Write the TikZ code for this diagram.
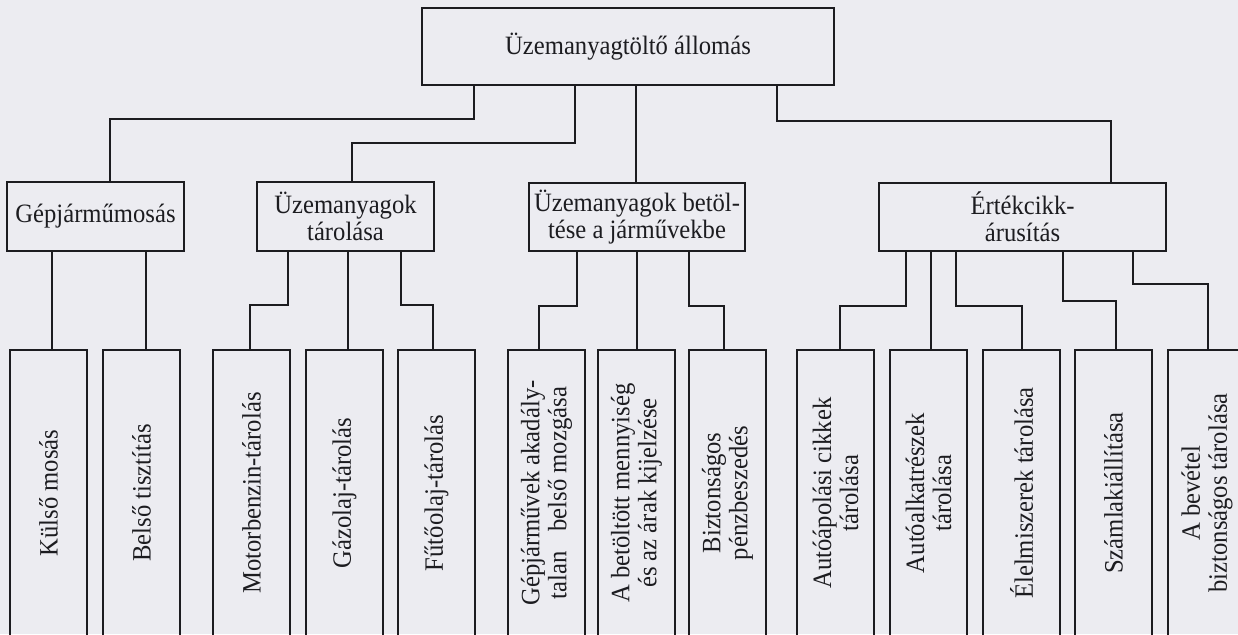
\documentclass[tikz,border=0pt]{standalone}
\usepackage{fontspec}
\setmainfont{Liberation Serif}[FakeStretch=0.93]
\definecolor{bg}{RGB}{236,236,241}
\definecolor{ink}{RGB}{28,28,32}
\begin{document}
\begin{tikzpicture}[x=1pt,y=-1pt,
  box/.style={draw=ink, line width=2pt, inner sep=0pt, outer sep=0pt, anchor=north west, align=center, font=\fontsize{26.5}{27}\selectfont, text=ink},
  leaf/.style={draw=ink, line width=2pt, inner sep=0pt, outer sep=0pt, anchor=north west, minimum width=77pt, minimum height=286pt},
  ltext/.style={rotate=90, align=center, font=\fontsize{26.5}{27}\selectfont, text=ink, inner sep=0pt},
  conn/.style={draw=ink, line width=1.1pt}]
\useasboundingbox (0,0) rectangle (1238,634);
\fill[bg] (0,0) rectangle (1238,634);
\clip (0,0) rectangle (1238,634);
% level 1 and 2
\node[box, minimum width=412pt, minimum height=77pt] (root) at (422,8) {Üzemanyagtöltő állomás};
\node[box, minimum width=177pt, minimum height=69pt] (g1) at (7,182) {Gépjárműmosás};
\node[box, minimum width=177pt, minimum height=69pt] (g2) at (257,182) {Üzemanyagok\\tárolása};
\node[box, minimum width=216pt, minimum height=68pt] (g3) at (529,183) {Üzemanyagok betöl-\\tése a járművekbe};
\node[box, minimum width=287pt, minimum height=68pt] (g4) at (879,183) {Értékcikk-\\árusítás};
% leaves
\node[leaf] (l1) at (10,350) {};
\node[leaf] (l2) at (103,350) {};
\node[leaf] (l3) at (213,350) {};
\node[leaf] (l4) at (306,350) {};
\node[leaf] (l5) at (398,350) {};
\node[leaf] (l6) at (508,350) {};
\node[leaf] (l7) at (598,350) {};
\node[leaf] (l8) at (689,350) {};
\node[leaf] (l9) at (797,350) {};
\node[leaf] (l10) at (890,350) {};
\node[leaf] (l11) at (983,350) {};
\node[leaf] (l12) at (1075,350) {};
\node[leaf, minimum width=78pt] (l13) at (1168,350) {};
\node[ltext] (t1) at (l1.center) {Külső mosás};
\node[ltext] (t2) at (l2.center) {Belső tisztítás};
\node[ltext] (t3) at (l3.center) {Motorbenzin-tárolás};
\node[ltext] (t4) at (l4.center) {Gázolaj-tárolás};
\node[ltext] (t5) at (l5.center) {Fűtőolaj-tárolás};
\node[ltext] (t6) at (l6.center) {Gépjárművek akadály-\\\hbox to 212pt{talan\hfil\ belső mozgása}};
\node[ltext] (t7) at (l7.center) {A betöltött mennyiség\\és az árak kijelzése};
\node[ltext] (t8) at (l8.center) {Biztonságos\\pénzbeszedés};
\node[ltext] (t9) at (l9.center) {Autóápolási cikkek\\tárolása};
\node[ltext] (t10) at (l10.center) {Autóalkatrészek\\tárolása};
\node[ltext] (t11) at (l11.center) {Élelmiszerek tárolása};
\node[ltext] (t12) at (l12.center) {Számlakiállítása};
\node[ltext] (t13) at (l13.center) {A bevétel\\biztonságos tárolása};
% connectors root
\draw[conn] ([xshift=52pt]root.south west) -- ++(0,34) -| ([xshift=103pt]g1.north west);
\draw[conn] ([xshift=153pt]root.south west) -- ++(0,58) -| ([xshift=95pt]g2.north west);
\draw[conn] ([xshift=214pt]root.south west) -- ([xshift=214pt]root.south west |- g3.north);
\draw[conn] ([xshift=355pt]root.south west) -- ++(0,36) -| ([xshift=232pt]g4.north west);
% connectors g1
\draw[conn] ([xshift=45pt]g1.south west) -- ([xshift=45pt]g1.south west |- l1.north);
\draw[conn] ([xshift=139pt]g1.south west) -- ([xshift=139pt]g1.south west |- l2.north);
% connectors g2
\draw[conn] ([xshift=31pt]g2.south west) -- ++(0,54) -| ([xshift=37pt]l3.north west);
\draw[conn] ([xshift=91pt]g2.south west) -- ([xshift=91pt]g2.south west |- l4.north);
\draw[conn] ([xshift=144pt]g2.south west) -- ++(0,54) -| ([xshift=35pt]l5.north west);
% connectors g3
\draw[conn] ([xshift=48pt]g3.south west) -- ++(0,55) -| ([xshift=31pt]l6.north west);
\draw[conn] ([xshift=108pt]g3.south west) -- ([xshift=108pt]g3.south west |- l7.north);
\draw[conn] ([xshift=160pt]g3.south west) -- ++(0,55) -| ([xshift=35pt]l8.north west);
% connectors g4
\draw[conn] ([xshift=27pt]g4.south west) -- ++(0,55) -| ([xshift=43pt]l9.north west);
\draw[conn] ([xshift=52pt]g4.south west) -- ([xshift=52pt]g4.south west |- l10.north);
\draw[conn] ([xshift=77pt]g4.south west) -- ++(0,55) -| ([xshift=39pt]l11.north west);
\draw[conn] ([xshift=184pt]g4.south west) -- ++(0,50) -| ([xshift=41pt]l12.north west);
\draw[conn] ([xshift=254pt]g4.south west) -- ++(0,33) -| ([xshift=40pt]l13.north west);
\end{tikzpicture}
\end{document}
